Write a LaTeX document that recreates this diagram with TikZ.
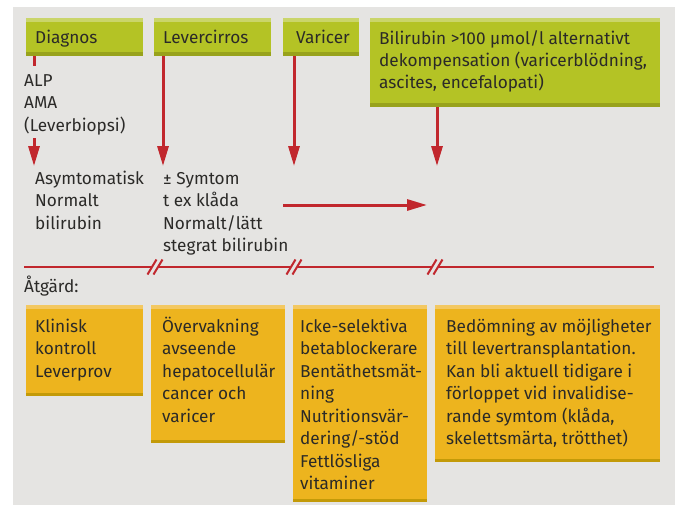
\documentclass[tikz,border=0pt]{standalone}
\usepackage{fontspec}
\setmainfont{Fira Sans}
\usetikzlibrary{arrows.meta}
\definecolor{bgc}{HTML}{E5E4E2}
\definecolor{grn}{HTML}{B4C325}
\definecolor{grnl}{HTML}{CAD56A}
\definecolor{grnd}{HTML}{98A21C}
\definecolor{org}{HTML}{EDB41E}
\definecolor{orgl}{HTML}{F3C862}
\definecolor{orgd}{HTML}{C39A08}
\definecolor{redc}{HTML}{C1272D}
\definecolor{tcol}{HTML}{2B2A28}
\newcommand\mylines[1]{\begin{tabular}[t]{@{}l@{}}#1\end{tabular}}
\begin{document}
\begin{tikzpicture}[x=1pt,y=-1pt,
  boxbase/.style={inner sep=0pt, anchor=north west, draw=none},
  gbox/.style={boxbase, fill=grn, path picture={
     \fill[grnl] (path picture bounding box.north west) rectangle ([yshift=-4pt]path picture bounding box.north east);
     \fill[grnd] (path picture bounding box.south west) rectangle ([yshift=4pt]path picture bounding box.south east);}},
  obox/.style={boxbase, fill=org, path picture={
     \fill[orgl] (path picture bounding box.north west) rectangle ([yshift=-4pt]path picture bounding box.north east);
     \fill[orgd] (path picture bounding box.south west) rectangle ([yshift=3.5pt]path picture bounding box.south east);}},
  txt/.style={anchor=base west, inner sep=0pt, text=tcol, font=\fontsize{17.2}{22.5}\selectfont},
  rline/.style={draw=redc, line width=3pt},
  rarrow/.style={rline, -{Triangle[length=20pt,width=11pt]}},
  divl/.style={draw=redc, line width=2.5pt},
  slash/.style={draw=redc, line width=2pt}
]
\useasboundingbox (0,0) rectangle (675,504);
\fill[white] (-5,-5) rectangle (690,520);
\fill[bgc] (13,7) rectangle (690,520);

% top boxes
\node[gbox, minimum width=117pt, minimum height=38pt] (diag) at (26,18) {};
\node[gbox, minimum width=117pt, minimum height=38pt] (lc) at (154,18) {};
\node[gbox, minimum width=76pt, minimum height=38pt] (var) at (283,18) {};
\node[gbox, minimum width=290pt, minimum height=89pt] (bil) at (370,18) {};
\node[txt] (diagt) at (35,43) {Diagnos};
\node[txt] (lct) at (163,43) {Levercirros};
\node[txt] (vart) at (296,43) {Varicer};
\node[txt, font=\fontsize{17.2}{22}\selectfont] (bilt) at (379,44) {\mylines{Bilirubin >100 µmol/l alternativt\\dekompensation (varicerblödning,\\ascites, encefalopati)}};

% middle texts
\node[txt] (alp) at (24,86) {\mylines{ALP\\AMA\\(Leverbiopsi)}};
\node[txt] (asym) at (35,184) {\mylines{Asymtomatisk\\Normalt\\bilirubin}};
\node[txt] (sym) at (163,184) {\mylines{± Symtom\\t ex klåda\\Normalt/lätt\\stegrat bilirubin}};

% arrows
\draw[rline] ([xshift=8pt]diag.south west) -- ++(0,10);
\coordinate (d2) at (34,138);
\draw[rarrow, shorten >=2pt] (d2) -- (d2 |- asym.north);
\draw[rarrow, shorten >=2pt] ([xshift=9pt]lc.south west) -- ([xshift=9pt]lc.south west |- sym.north);
\draw[rarrow, shorten >=2pt] ([xshift=11pt]var.south west) -- ([xshift=11pt]var.south west |- sym.north);
\draw[rarrow, shorten >=2pt] ([xshift=67pt]bil.south west) -- ([xshift=67pt]bil.south west |- sym.north);
\coordinate (h1) at (283,205);
\coordinate (h2) at (427,205);
\draw[rarrow] (h1) -- (h2);

% divider with break marks
\coordinate (dl) at (24,267);
\coordinate (dr) at (654,267);
\draw[divl] (dl) -- (152,267);
\draw[divl] (158,267) -- (291,267);
\draw[divl] (297,267) -- (432,267);
\draw[divl] (438,267) -- (dr);
\foreach \c in {155,294,435}{
  \draw[slash] (\c-7.5,274.5) -- (\c+1.5,259.5);
  \draw[slash] (\c-1.5,274.5) -- (\c+7.5,259.5);
}

\node[txt] (atg) at (24,292) {Åtgärd:};

% bottom boxes
\node[obox, minimum width=117pt, minimum height=91pt] (o1) at (26,305) {};
\node[obox, minimum width=134pt, minimum height=138pt] (o2) at (151,305) {};
\node[obox, minimum width=134pt, minimum height=197pt] (o3) at (293,305) {};
\node[obox, minimum width=225pt, minimum height=157pt] (o4) at (435,305) {};
\node[txt] (o1t) at (35,332) {\mylines{Klinisk\\kontroll\\Leverprov}};
\node[txt] (o2t) at (162,332) {\mylines{Övervakning\\avseende\\hepatocellulär\\cancer och\\varicer}};
\node[txt] (o3t) at (300,332) {\mylines{Icke-selektiva\\betablockerare\\Bentäthetsmät-\\ning\\Nutritionsvär-\\dering/-stöd\\Fettlösliga\\vitaminer}};
\node[txt] (o4t) at (446,332) {\mylines{Bedömning av möjligheter\\till levertransplantation.\\Kan bli aktuell tidigare i\\förloppet vid invalidise-\\rande symtom (klåda,\\skelettsmärta, trötthet)}};
\end{tikzpicture}
\end{document}
